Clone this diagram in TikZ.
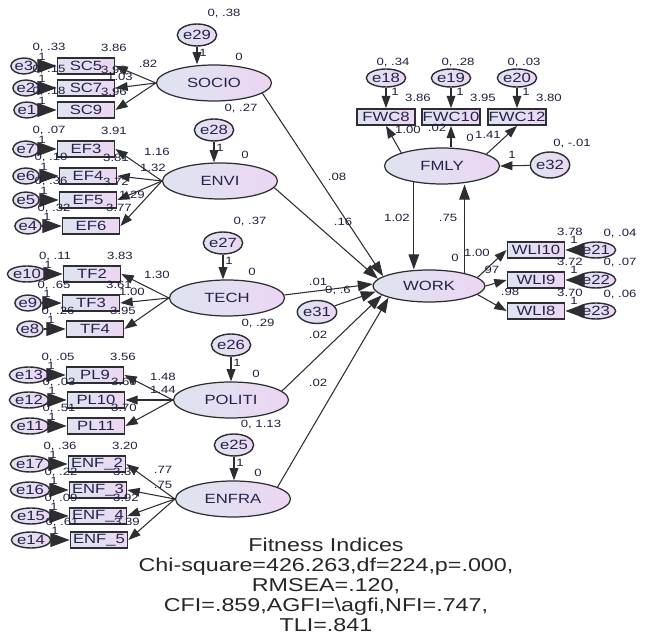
\documentclass[tikz,border=0pt]{standalone}
\usepackage{fontspec}
\setmainfont{Liberation Sans}[FakeStretch=1.25]
\usetikzlibrary{arrows.meta, shapes.geometric, calc}
\definecolor{amosline}{RGB}{45,45,50}
\definecolor{leftfill}{RGB}{222,228,240}
\definecolor{rightfill}{RGB}{236,214,242}
\definecolor{nametext}{RGB}{35,35,75}
\definecolor{numtext}{RGB}{30,30,60}
\newcommand\namefont{\fontsize{7.6}{8}\selectfont}
\newcommand\numfont{\fontsize{6}{6}\selectfont}
\newcommand\fitfont{\fontsize{10.6}{11.4}\selectfont}

\begin{document}
\begin{tikzpicture}[x=0.02cm, y=-0.02cm,
        latent/.style={ellipse, draw=amosline, line width=0.7pt, left color=leftfill, right color=rightfill, minimum width=2.3cm, minimum height=0.72cm, inner sep=0pt, font=\namefont, text=nametext},
        obs/.style={rectangle, draw=amosline, line width=1pt, left color=leftfill, right color=rightfill, minimum width=1.14cm, minimum height=0.32cm, inner sep=0pt, font=\namefont, text=nametext},
        err/.style={ellipse, draw=amosline, line width=0.8pt, left color=leftfill, right color=rightfill, minimum width=0.5cm, minimum height=0.44cm, inner sep=0pt, font=\namefont, text=nametext},
        serr/.style={err, minimum width=0.42cm, minimum height=0.32cm},
        num/.style={font=\numfont, text=numtext, inner sep=0pt},
        path/.style={-{Triangle[length=7pt, width=5pt]}, amosline, line width=0.6pt},
        inpath/.style={-{Triangle[length=8.5pt, width=6pt]}, amosline, line width=0.6pt},
        errpath/.style={-{Triangle[length=11pt, width=8pt]}, amosline, line width=0.6pt},
    ]
    \useasboundingbox (0,0) rectangle (650,634);

    % ===== Latent variables =====
    \node[latent] (SOCIO) at (214,83) {SOCIO};
    \node[latent] (ENVI) at (220,181) {ENVI};
    \node[latent] (TECH) at (227,298) {TECH};
    \node[latent] (POLITI) at (231,400) {POLITI};
    \node[latent] (ENFRA) at (233,499) {ENFRA};
    \node[latent] (FMLY) at (442,166) {FMLY};
    \node[latent, minimum width=2.24cm, minimum height=0.64cm] (WORK) at (429,286) {WORK};

    % ===== Left indicators with their errors =====
    \foreach \id/\txt/\bx/\by/\eid/\ex/\ev/\mi in {
        SC5/SC5/86/66/e3/24/.33/3.86,
        SC7/SC7/86/88/e2/26/.15/3.93,
        SC9/SC9/86/110/e1/27/.18/3.96,
        EF3/EF3/86/149/e7/26/.07/3.91,
        EF4/EF4/88/176/e6/26/.10/3.81,
        EF5/EF5/88/200/e5/26/.36/3.72,
        EF6/EF6/91/226/e4/28/.32/3.77,
        TF2/TF2/92/274/e10/27/.11/3.83,
        TF3/TF3/91/303/e9/28/.65/3.61,
        TF4/TF4/95/329/e8/30/.26/3.95,
        PL9/PL9/95/375/e13/29/.05/3.56,
        PL10/PL10/96/400/e12/29/.03/3.60,
        PL11/PL11/96/426/e11/30/.51/3.70,
        ENF2/ENF\_2/97/464/e17/30/.36/3.20,
        ENF3/ENF\_3/98/490/e16/30/.22/3.37,
        ENF4/ENF\_4/98/516/e15/31/.09/3.92,
        ENF5/ENF\_5/99/540/e14/31/.61/3.39%
    } {
        \node[num] at (\bx-37,\by-18) {0, \ev};
        \node[num] at (\bx-44,\by-9) {1};
        \node[num] at (\bx+28,\by-18) {\mi};
        \node[obs] (\id) at (\bx,\by) {\txt};
        \node[serr] (\eid) at (\ex,\by) {\eid};
        \draw[errpath] (\eid) -- (\id);
    }

    % loadings of the left constructs
    \foreach \lat/\ids in {SOCIO/{SC5,SC7,SC9}, ENVI/{EF3,EF4,EF5,EF6}, TECH/{TF2,TF3,TF4},
        POLITI/{PL9,PL10,PL11}, ENFRA/{ENF2,ENF3,ENF4,ENF5}} {
        \foreach \id in \ids { \draw[path] (\lat.west) -- (\id.east); }
    }
    \foreach \val/\lx/\ly in {.82/148/64, 1.03/120/77, 1.16/157/152, 1.32/153/168, 1.29/132/195,
        1.30/157/275, 1.00/132/292, 1.48/163/377, 1.44/163/390, .77/163/470, .75/163/485} {
        \node[num] at (\lx,\ly) {\val};
    }

    % ===== Disturbances of the left constructs =====
    \foreach \eid/\ex/\ey/\lat/\ev in {e29/197/35/SOCIO/.38, e28/214/130/ENVI/.27, e27/223/243/TECH/.37,
        e26/231/345/POLITI/.29, e25/234/445/ENFRA/1.13} {
        \node[err] (\eid) at (\ex,\ey) {\eid};
        \draw[path] (\eid) -- (\eid |- \lat.north);
        \node[num] at (\ex+27,\ey-21) {0, \ev};
        \node[num] at (\ex+6,\ey+18) {1};
        \node[num] at ($(\lat)+(25,-26)$) {0};
    }

    % ===== FMLY and its indicators =====
    \foreach \id/\bx/\eid/\ev/\mi in {FWC8/386/e18/.34/3.86, FWC10/451/e19/.28/3.95, FWC12/517/e20/.03/3.80} {
        \node[obs, minimum width=1.16cm] (\id) at (\bx,117) {\id};
        \node[err, minimum width=0.5cm, minimum height=0.36cm] (\eid) at (\bx,78) {\eid};
        \draw[path] (\eid) -- (\id);
        \node[num] at (\bx+7,62) {0, \ev};
        \node[num] at (\bx+9,92) {1};
        \node[num] at (\bx+32,98) {\mi};
    }
    \draw[path] (FMLY.162) -- (FWC8.south);
    \draw[path] (FWC10.south |- FMLY.north) -- (FWC10.south);
    \draw[path] (FMLY.15) -- (FWC12.south);
    \node[num] at (408,130) {1.00};
    \node[num] at (437,128) {.02};
    \node[num] at (470,138) {0};
    \node[num] at (488,135) {1.41};

    \node[err, minimum width=0.62cm, minimum height=0.52cm] (e32) at (550,165) {e32};
    \draw[path] (e32) -- (FMLY.east);
    \node[num] at (512,155) {1};
    \node[num] at (572,143) {0, -.01};

    % ===== Paths into WORK =====
    \draw[inpath] (SOCIO.-12) -- (WORK.168);
    \draw[inpath] (ENVI.-7) -- (WORK.172);
    \draw[inpath] (TECH.3) -- (WORK.178);
    \draw[inpath] (POLITI.10) -- (WORK.191);
    \draw[inpath] (ENFRA.15) -- (WORK.196);
    \node[num] at (337,177) {.08};
    \node[num] at (343,222) {.16};
    \node[num] at (318,282) {.01};
    \node[num] at (318,335) {.02};
    \node[num] at (318,383) {.02};

    \node[err, minimum width=0.64cm, minimum height=0.46cm] (e31) at (317,312) {e31};
    \draw[inpath] (e31) -- (WORK.186);
    \node[num] at (338,290) {0, .6};

    % FMLY <-> WORK
    \draw[inpath] (FMLY.210.6) -- (FMLY.210.6 |- WORK.north);
    \draw[inpath] (WORK.20.5) -- (WORK.20.5 |- FMLY.south);
    \node[num] at (397,218) {1.02};
    \node[num] at (448,218) {.75};
    \node[num] at (455,258) {0};

    % ===== WORK indicators =====
    \foreach \id/\by/\eid/\ev/\mi in {WLI10/250/e21/.04/3.78, WLI9/280/e22/.07/3.72, WLI8/311/e23/.06/3.70} {
        \node[obs] (\id) at (536,\by) {\id};
        \node[serr] (\eid) at (596,\by) {\eid};
        \draw[errpath] (\eid) -- (\id);
        \node[num] at (570,\by-18) {\mi};
        \node[num] at (574,\by-10) {1};
        \node[num] at (620,\by-17) {0, \ev};
    }
    \draw[path] (WORK.10) -- (WLI10.west);
    \draw[path] (WORK.east) -- (WLI9.west);
    \draw[path] (WORK.-10) -- (WLI8.west);
    \node[num] at (477,253) {1.00};
    \node[num] at (490,270) {.97};
    \node[num] at (510,292) {.98};

    % ===== Fitness indices =====
    \node[font=\fitfont, text=black!85, align=center] (FIT) at (326,585)
        {Fitness Indices\\Chi-square=426.263,df=224,p=.000,\\RMSEA=.120,\\CFI=.859,AGFI=\textbackslash agfi,NFI=.747,\\TLI=.841};

\end{tikzpicture}
\end{document}
